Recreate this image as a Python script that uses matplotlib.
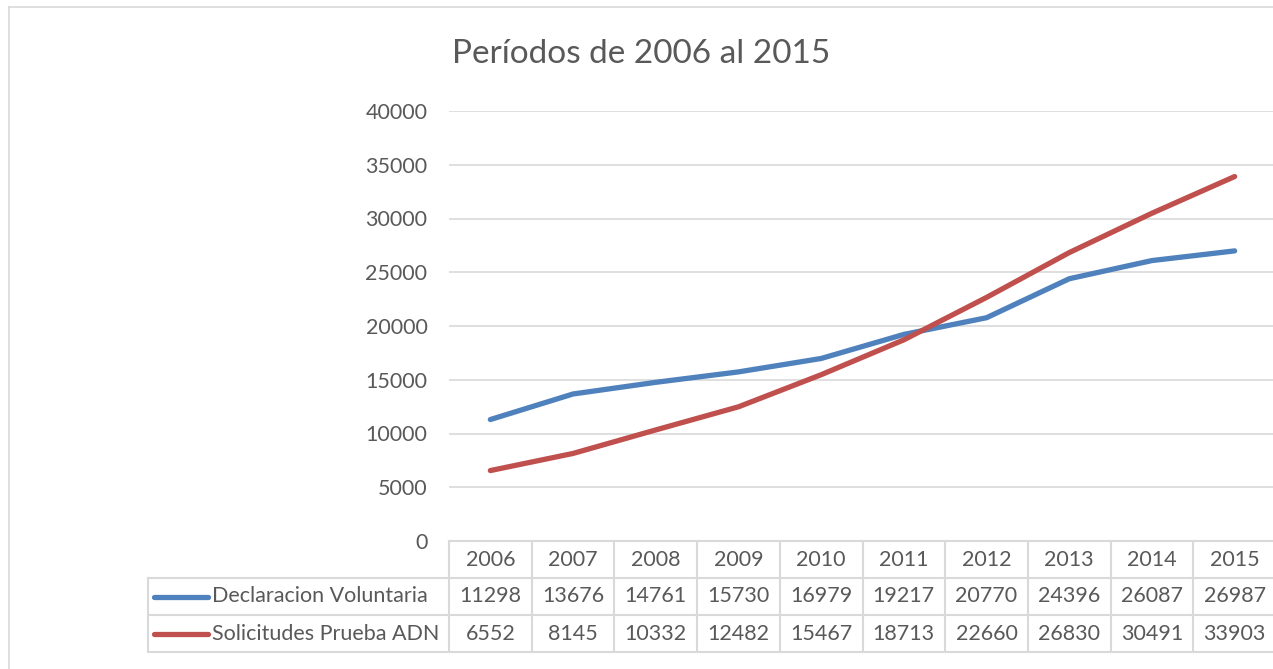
import matplotlib.pyplot as plt
import numpy as np

plt.rcParams['font.family'] = ['Lato', 'DejaVu Sans']

# datos 2006-2015
years = ['2006', '2007', '2008', '2009', '2010', '2011', '2012', '2013', '2014', '2015']
declaracion = [11298, 13676, 14761, 15730, 16979, 19217, 20770, 24396, 26087, 26987]
solicitudes = [6552, 8145, 10332, 12482, 15467, 18713, 22660, 26830, 30491, 33903]
series_names = ['Declaracion Voluntaria', 'Solicitudes Prueba ADN']
series_colors = ['#4F81BD', '#C0504D']

W, H = 1273, 669
txt_color = '#595959'
grid_color = '#D9D9D9'
fs = 15.5

fig = plt.figure(figsize=(W / 100, H / 100), dpi=100)

# area del grafico (pixeles -> fraccion)
left, right, top, bottom = 449, 1276, 111, 541
ax = fig.add_axes([left / W, 1 - bottom / H, (right - left) / W, (bottom - top) / H])
x = np.arange(len(years))
for vals, c in zip([declaracion, solicitudes], series_colors):
    ax.plot(x, vals, color=c, lw=3.8, solid_capstyle='round', solid_joinstyle='round', zorder=3)
ax.set_xlim(-0.5, len(years) - 0.5)
ax.set_ylim(0, 40000)
ax.set_yticks(range(0, 40001, 5000))
ax.yaxis.grid(True, color=grid_color, lw=1.2)
ax.set_axisbelow(True)
for s in ax.spines.values():
    s.set_visible(False)
ax.tick_params(axis='y', length=0, pad=15.5, labelsize=fs, labelcolor=txt_color)
ax.set_xticks([])

# tabla de datos
tb_top, tb_bottom = 541, 652
tax = fig.add_axes([left / W, 1 - tb_bottom / H, (right - left) / W, (tb_bottom - tb_top) / H])
tax.set_xlim(-0.5, len(years) - 0.5)
tax.set_ylim(0, 3)
tax.axis('off')
colw = (right - left) / len(years)
leg_left = -0.5 - (left - 148) / colw
lk = dict(color=grid_color, lw=1.5, clip_on=False)
tax.plot([-0.5, len(years) - 0.5], [3, 3], **lk)
for yy in [0, 1, 2]:
    tax.plot([leg_left, len(years) - 0.5], [yy, yy], **lk)
for i in range(len(years) + 1):
    tax.plot([i - 0.5, i - 0.5], [0, 3], **lk)
tax.plot([leg_left, leg_left], [0, 2], **lk)

for i, yr in enumerate(years):
    tax.text(i, 2.5, yr, ha='center', va='center', fontsize=fs, color=txt_color)
for row, (name, vals, c) in enumerate(zip(series_names, [declaracion, solicitudes], series_colors)):
    yc = 1.5 - row
    for i, v in enumerate(vals):
        tax.text(i, yc, str(v), ha='center', va='center', fontsize=fs, color=txt_color)
    k0 = leg_left + 6 / colw
    k1 = leg_left + 60 / colw
    tax.plot([k0, k1], [yc, yc], color=c, lw=3.8, solid_capstyle='round', clip_on=False)
    tax.text(k1 + 4 / colw, yc, name, ha='left', va='center', fontsize=fs, color=txt_color)

fig.text(641 / W, 1 - 54 / H, 'Períodos de 2006 al 2015', ha='center', va='center',
         fontsize=24, color=txt_color)

# borde del grafico
fig.add_artist(plt.Line2D([9 / W, 9 / W], [0, 1 - 7 / H], color=grid_color, lw=1.2))
fig.add_artist(plt.Line2D([9 / W, 1], [1 - 7 / H, 1 - 7 / H], color=grid_color, lw=1.2))

fig.savefig('out.png', dpi=100)
plt.close(fig)
